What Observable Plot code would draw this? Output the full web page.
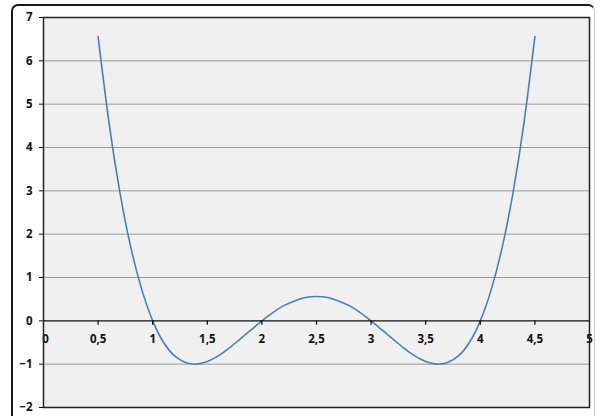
<!DOCTYPE html>
<html><head><meta charset="utf-8">
<script src="https://cdn.jsdelivr.net/npm/d3@7"></script>
<script src="https://cdn.jsdelivr.net/npm/@observablehq/plot@0.6"></script>
<style>
html,body{margin:0;padding:0;background:#fff;}
#wrap{position:relative;width:601px;height:416px;overflow:hidden;}
#frame{position:absolute;left:11px;top:4px;width:584px;height:430px;border:2px solid #1a1a1a;border-right:1.5px solid #c8c8c8;border-radius:7px;box-sizing:border-box;}
#chart{position:absolute;left:0;top:0;}
</style></head>
<body><div id="wrap"><div id="frame"></div><div id="chart"></div></div>
<script>
const xs = [0.5,0.6,0.7,0.8,0.9,1.0,1.1,1.2,1.3,1.4,1.5,1.6,1.7,1.8,1.9,2.0,2.1,2.2,2.3,2.4,2.5,2.6,2.7,2.8,2.9,3.0,3.1,3.2,3.3,3.4,3.5,3.6,3.7,3.8,3.9,4.0,4.1,4.2,4.3,4.4,4.5];
const ys = [6.56,4.57,2.96,1.69,0.72,0.00,-0.50,-0.81,-0.96,-1.00,-0.94,-0.81,-0.63,-0.42,-0.21,0.00,0.19,0.35,0.46,0.54,0.56,0.54,0.46,0.35,0.19,0.00,-0.21,-0.42,-0.63,-0.81,-0.94,-1.00,-0.96,-0.81,-0.50,0.00,0.72,1.69,2.96,4.57,6.56];
const xTicks = [0,0.5,1,1.5,2,2.5,3,3.5,4,4.5,5];
const yTicks = [-2,-1,0,1,2,3,4,5,6,7];
const data = xs.map((x,i)=>({x, y: ys[i]}));
const fmtX = d => String(d).replace(".", ",");
const fmtY = d => d < 0 ? "\u2212" + Math.abs(d) : String(d);

const chart = Plot.plot({
  width: 601, height: 416,
  marginLeft: 43, marginRight: 12, marginTop: 17, marginBottom: 9,
  x: {domain: [0,5]},
  y: {domain: [-2,7]},
  style: {fontFamily: "'Open Sans', sans-serif", fontSize: "11.5px", fontWeight: 700, color: "#111", background: "transparent"},
  marks: [
    Plot.frame({fill: "#f0f0f0", stroke: "none"}),
    Plot.ruleY(yTicks.filter(d => d !== 0 && d !== -2 && d !== 7), {stroke: "#9a9a9a", strokeWidth: 1}),
    Plot.line(data, {x: "x", y: "y", stroke: "#4a7ebb", strokeWidth: 1.6, curve: "natural"}),
    Plot.ruleY([0], {stroke: "#111", strokeWidth: 1.3}),
    Plot.ruleX(xTicks.filter(d => d > 0 && d < 5), {x: d => d, y1: 0, y2: -0.1, stroke: "#111", strokeWidth: 1.3}),
    Plot.text(xTicks.filter(d => d > 0), {x: d => d, y: d => 0, text: fmtX, dy: 18, fill: "#111"}),
    Plot.text(xTicks.filter(d => d === 0), {x: d => d, y: d => 0, text: fmtX, dy: 18, dx: 2, fill: "#111"}),
    Plot.axisY({ticks: yTicks, tickFormat: fmtY, tickSize: 4, tickPadding: 7, label: null, stroke: "#111"}),
    Plot.axisX({ticks: [], label: null}),
    Plot.frame({stroke: "#222", strokeWidth: 1.5})
  ]
});
document.getElementById("chart").appendChild(chart);
</script></body></html>
